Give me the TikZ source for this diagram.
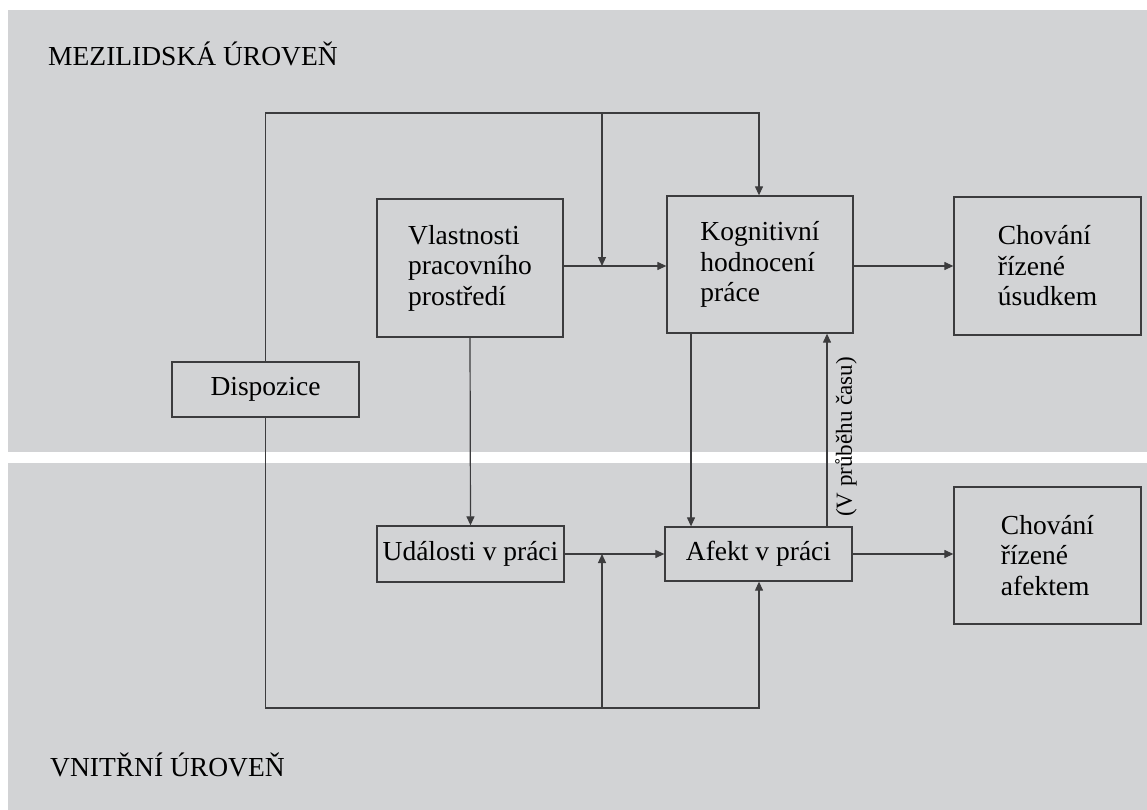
\documentclass[tikz,border=0pt]{standalone}
\usepackage{fontspec}
\setmainfont{Liberation Serif}
\usetikzlibrary{arrows.meta}
\definecolor{panel}{RGB}{210,211,213}
\definecolor{ink}{RGB}{60,60,62}
\tikzset{
  box/.style={draw=ink, line width=1.3pt, align=left, inner sep=0pt,
    font=\fontsize{27.5}{30.5}\selectfont},
  arr/.style={draw=ink, line width=1.2pt, -{Triangle[length=9pt,width=8pt]}},
  ln/.style={draw=ink, line width=1.2pt},
  lbl/.style={inner sep=0pt, font=\fontsize{27.5}{30.5}\selectfont}
}
\begin{document}
\begin{tikzpicture}[x=1pt,y=-1pt]
\useasboundingbox (0,0) rectangle (1147,810);
\fill[panel] (8,10) rectangle (1147,452);
\fill[panel] (8,463) rectangle (1147,810);

\node[lbl, anchor=base west] (top) at (48,66) {MEZILIDSKÁ ÚROVEŇ};
\node[lbl, anchor=base west] (bot) at (50,776) {VNITŘNÍ ÚROVEŇ};

\node[box, minimum width=186pt, minimum height=138pt] (vlast) at (470,268) {Vlastnosti\\pracovního\\prostředí};
\node[box, minimum width=186pt, minimum height=137pt] (kog) at (760,264.5) {Kognitivní\\hodnocení\\práce};
\node[box, minimum width=187pt, minimum height=138pt] (chu) at (1047.5,266) {Chování\\řízené\\úsudkem};
\node[box, minimum width=187pt, minimum height=137pt] (cha) at (1047.5,555.5) {Chování\\řízené\\afektem};
\node[box, minimum width=187pt, minimum height=55pt] (disp) at (265.5,389.5) {Dispozice};
\node[box, minimum width=187pt, minimum height=56pt] (udal) at (470.5,554) {Události v práci};
\node[box, minimum width=187pt, minimum height=54pt] (afekt) at (758.5,554) {Afekt v práci};

\coordinate (tl) at (265.5,113);
\coordinate (tm) at (602,113);
\coordinate (tr) at (759,113);
\coordinate (jt) at (602,266);
\coordinate (bl) at (265.5,708);
\coordinate (bm) at (602,708);
\coordinate (br) at (759,708);
\coordinate (jb) at (602,554);

% top feedback
\draw[arr] (disp.north) -- (tl) -- (tr) -- (tr |- kog.north);
\draw[arr] (tm) -- (jt);
\draw[arr] (vlast.east |- jt) -- (kog.west |- jt);
\draw[arr] (kog.east |- jt) -- (chu.west |- jt);

% verticals
\draw[arr] (vlast.south) -- (udal.north);
\draw[arr] ([xshift=-69pt]kog.south) -- ([xshift=-69pt]kog.south |- afekt.north);
\draw[arr] ([xshift=68.5pt]afekt.north) -- ([xshift=68.5pt]afekt.north |- kog.south);
\node[lbl, rotate=90, font=\fontsize{23}{26}\selectfont] (cas) at (846,437) {(V průběhu času)};

% bottom
\draw[arr] (udal.east) -- (afekt.west);
\draw[arr] (afekt.east) -- (cha.west |- afekt.east);
\draw[arr] (disp.south) -- (bl) -- (br) -- (br |- afekt.south);
\draw[arr] (bm) -- (jb);
\end{tikzpicture}
\end{document}
